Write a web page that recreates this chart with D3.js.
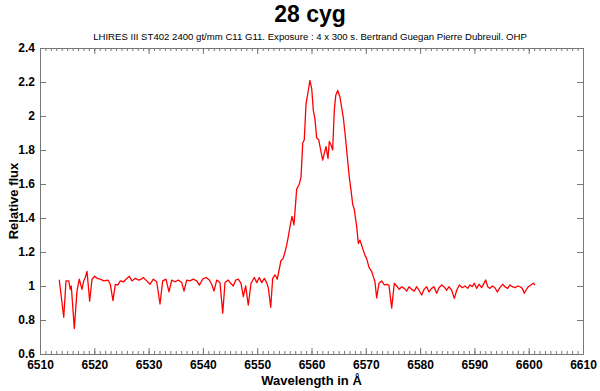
<!DOCTYPE html>
<html>
<head>
<meta charset="utf-8">
<script src="https://cdn.jsdelivr.net/npm/d3@7"></script>
<style>
  body { margin: 0; background: #fff; }
  text { font-family: "Liberation Sans", Arial, Helvetica, sans-serif; }
</style>
</head>
<body>
<svg width="600" height="391"></svg>
<script>
// spectrum (wavelength in Å, relative flux)
const wavelength = [
  6513.55, 6514.37, 6514.79, 6515.29, 6515.58, 6515.76, 6516.32, 6516.81, 6517.24, 6517.73,
  6518.05, 6518.34, 6518.66, 6519.15, 6519.58, 6520.07, 6520.50, 6521.10, 6521.73, 6522.52,
  6522.95, 6523.44, 6523.87, 6524.31, 6524.79, 6525.41, 6525.84, 6526.45, 6526.94, 6527.55,
  6528.18, 6528.66, 6529.02, 6529.65, 6530.26, 6530.87, 6531.49, 6532.10, 6532.60, 6533.20,
  6533.76, 6534.25, 6534.86, 6535.47, 6536.10, 6536.52, 6537.02, 6537.62, 6538.23, 6538.86,
  6539.34, 6539.96, 6540.57, 6541.18, 6541.62, 6542.04, 6542.54, 6543.15, 6543.65, 6544.07,
  6544.68, 6545.12, 6545.60, 6546.04, 6546.52, 6547.02, 6547.44, 6547.88, 6548.36, 6548.86,
  6549.47, 6549.91, 6550.39, 6550.83, 6551.31, 6551.75, 6552.04, 6552.49, 6552.85, 6553.28,
  6553.70, 6554.07, 6554.38, 6554.75, 6555.12, 6555.43, 6555.73, 6556.04, 6556.41, 6556.78,
  6557.27, 6557.75, 6558.07, 6558.38, 6558.67, 6558.99, 6559.41, 6559.72, 6560.04, 6560.33,
  6560.64, 6560.96, 6561.33, 6561.69, 6562.06, 6562.36, 6562.67, 6563.04, 6563.28, 6563.59,
  6563.90, 6564.20, 6564.46, 6564.83, 6565.25, 6565.56, 6565.86, 6566.17, 6566.59, 6566.96,
  6567.27, 6567.59, 6567.88, 6568.32, 6568.62, 6568.93, 6569.43, 6569.85, 6570.17, 6570.59,
  6571.09, 6571.38, 6571.69, 6572.00, 6572.43, 6572.93, 6573.41, 6573.85, 6574.27, 6574.77,
  6575.25, 6575.69, 6576.17, 6576.61, 6577.09, 6577.53, 6577.96, 6578.45, 6578.93, 6579.37,
  6579.80, 6580.29, 6580.72, 6581.21, 6581.64, 6582.13, 6582.56, 6583.06, 6583.48, 6583.98,
  6584.40, 6584.90, 6585.32, 6585.82, 6586.30, 6586.74, 6587.22, 6587.77, 6588.27, 6588.76,
  6589.19, 6589.61, 6589.98, 6590.42, 6590.85, 6591.34, 6591.82, 6592.08, 6592.45, 6592.87,
  6593.30, 6593.79, 6594.22, 6594.71, 6595.21, 6595.63, 6596.13, 6596.56, 6596.98, 6597.48,
  6597.97, 6598.40, 6598.82, 6599.19, 6599.50, 6599.93, 6600.42, 6600.85, 6601.16
];
const flux = [
  1.037, 0.816, 1.03, 1.03, 0.98, 1.0, 0.75, 0.97, 1.04, 0.98,
  1.03, 1.05, 1.086, 0.91, 1.04, 1.057, 1.045, 1.04, 1.03, 1.035,
  1.01, 0.914, 1.01, 1.005, 1.03, 1.025, 1.04, 1.057, 1.03, 1.045,
  1.035, 1.04, 1.05, 1.03, 1.01, 1.04, 1.025, 0.894, 1.03, 1.04,
  0.965, 1.035, 1.025, 1.035, 1.02, 0.97, 1.035, 1.03, 1.04, 1.03,
  1.005, 1.04, 1.05, 1.035, 1.01, 0.97, 1.035, 1.02, 0.84, 1.02,
  1.035, 1.016, 1.0, 1.035, 1.04, 1.016, 0.937, 1.0, 0.888, 1.016,
  1.05, 1.02, 1.05, 1.02, 1.045, 1.02, 0.99, 0.875, 1.045, 1.065,
  1.04, 1.10, 1.15, 1.16, 1.20, 1.24, 1.29, 1.35, 1.41, 1.36,
  1.57, 1.60, 1.64, 1.84, 1.86, 2.07, 2.15, 2.21, 2.16, 2.035,
  1.98, 1.87, 1.86, 1.80, 1.74, 1.78, 1.82, 1.75, 1.85, 1.83,
  1.80, 2.035, 2.12, 2.15, 2.11, 2.05, 1.99, 1.90, 1.76, 1.64,
  1.565, 1.48, 1.45, 1.35, 1.25, 1.27, 1.22, 1.18, 1.16, 1.11,
  1.085, 1.055, 1.025, 0.93, 1.016, 1.03, 1.006, 1.01, 1.004, 0.87,
  1.016, 1.0, 0.98, 0.996, 0.986, 0.97, 0.996, 0.98, 0.97, 0.996,
  0.975, 0.947, 0.98, 0.996, 0.965, 0.986, 0.996, 0.957, 0.99, 1.006,
  0.996, 0.975, 0.996, 0.975, 0.927, 0.975, 1.006, 0.99, 1.0, 0.986,
  1.006, 0.996, 1.016, 0.986, 1.01, 0.99, 1.02, 1.035, 0.996, 0.986,
  1.0, 0.99, 0.965, 0.99, 1.01, 0.996, 0.986, 1.006, 0.996, 0.99,
  1.0, 0.996, 0.986, 0.957, 0.975, 0.996, 1.006, 1.016, 1.006
];

const xTicks = d3.range(6510, 6611, 10);
const xMinorTicks = d3.range(6510, 6611, 1);
const yTicks = [0.6, 0.8, 1, 1.2, 1.4, 1.6, 1.8, 2, 2.2, 2.4];

const title = "28 cyg";
const subtitle = "LHIRES III ST402 2400 gt/mm C11 G11. Exposure : 4 x 300 s. Bertrand Guegan Pierre Dubreuil. OHP";

const svg = d3.select("svg");
const margin = { top: 48, right: 17, bottom: 37, left: 40 };
const width = 600 - margin.left - margin.right;
const height = 391 - margin.top - margin.bottom;
const axisColor = "#777";

const g = svg.append("g").attr("transform", `translate(${margin.left},${margin.top})`);

const x = d3.scaleLinear().domain([6510, 6610]).range([0, width]);
const y = d3.scaleLinear().domain([0.6, 2.4]).range([height, 0]);

// minor ticks on top and bottom
g.append("g")
  .attr("transform", `translate(0,${height})`)
  .call(d3.axisBottom(x).tickValues(xMinorTicks).tickSize(-3).tickSizeOuter(0).tickFormat(""));
g.append("g")
  .call(d3.axisTop(x).tickValues(xMinorTicks).tickSize(-3).tickSizeOuter(0).tickFormat(""));

// major ticks, labels on bottom and left only
g.append("g")
  .attr("transform", `translate(0,${height})`)
  .call(d3.axisBottom(x).tickValues(xTicks).tickSize(-6).tickSizeOuter(0).tickPadding(6).tickFormat(d3.format("d")));
g.append("g")
  .call(d3.axisTop(x).tickValues(xTicks).tickSize(-6).tickSizeOuter(0).tickFormat(""));
g.append("g")
  .call(d3.axisLeft(y).tickValues(yTicks).tickSize(-6).tickSizeOuter(0).tickPadding(5).tickFormat(d3.format("~g")));
g.append("g")
  .attr("transform", `translate(${width},0)`)
  .call(d3.axisRight(y).tickValues(yTicks).tickSize(-6).tickSizeOuter(0).tickFormat(""));

g.selectAll(".domain, .tick line").attr("stroke", axisColor);
g.selectAll(".tick text")
  .attr("fill", "#000")
  .attr("font-size", 12)
  .attr("font-weight", "bold")
  .style("font-family", "'Liberation Sans', Arial, sans-serif");

// spectrum
const points = wavelength.map((w, i) => [w, flux[i]]);
const line = d3.line().x((d) => x(d[0])).y((d) => y(d[1]));
g.append("path")
  .datum(points)
  .attr("fill", "none")
  .attr("stroke", "#ff0000")
  .attr("stroke-width", 1.3)
  .attr("stroke-linejoin", "round")
  .attr("d", line);

// titles
svg.append("text")
  .attr("x", 310).attr("y", 22)
  .attr("text-anchor", "middle")
  .attr("font-size", 23).attr("font-weight", "bold")
  .text(title);

svg.append("text")
  .attr("x", 310).attr("y", 40)
  .attr("text-anchor", "middle")
  .attr("font-size", 9.6)
  .text(subtitle);

svg.append("text")
  .attr("x", margin.left + width / 2).attr("y", 385)
  .attr("text-anchor", "middle")
  .attr("font-size", 13).attr("font-weight", "bold")
  .text("Wavelength in Å");

svg.append("text")
  .attr("transform", `translate(18,${margin.top + height / 2}) rotate(-90)`)
  .attr("text-anchor", "middle")
  .attr("font-size", 13).attr("font-weight", "bold")
  .text("Relative flux");
</script>
</body>
</html>
